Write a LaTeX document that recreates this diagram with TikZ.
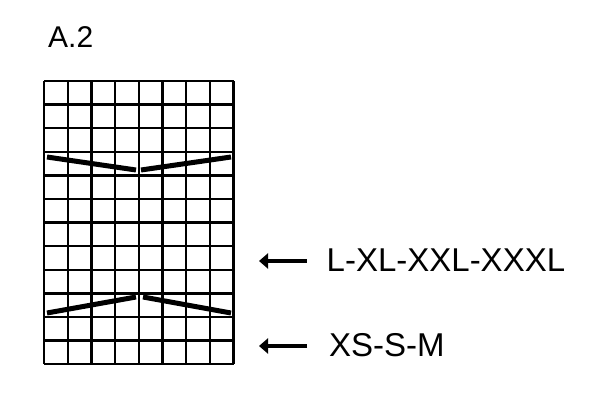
\documentclass[tikz,border=0pt]{standalone}
\usepackage{fontspec}
\setmainfont{Liberation Sans}
\usetikzlibrary{arrows.meta}
\newcommand{\cellW}[0]{23.7}
\newcommand{\cellH}[0]{23.6}

\begin{document}
\begin{tikzpicture}[x=1pt, y=-1pt]
  \tikzset{gridline/.style={line width=2.4pt},
    decline/.style={line width=5pt},
    sizearrow/.style={line width=4pt, -{Triangle[length=9pt,width=15pt]}},
    sizelabel/.style={anchor=base west, inner sep=0pt, font=\fontsize{33}{33}\selectfont}}
  \useasboundingbox (0,0) rectangle (614,404);
  \node[anchor=base west, inner sep=0pt, font=\fontsize{30}{30}\selectfont] (title) at (48,48) {A.2};
  \foreach \i in {0,...,8}
    \draw[gridline] (44+\i*\cellW, 81) -- (44+\i*\cellW, 81+12*\cellH);
  \foreach \j in {0,...,12}
    \draw[gridline] (44, 81+\j*\cellH) -- (44+8*\cellW, 81+\j*\cellH);
  \draw[decline] (47,157) -- (136,170);
  \draw[decline] (141,170) -- (231,157);
  \draw[decline] (47,313) -- (136,297);
  \draw[decline] (143,297) -- (231,313);
  \node[sizelabel] (big) at (326.5,271.7) {L-XL-XXL-XXXL};
  \node[sizelabel] (small) at (329,356.7) {XS-S-M};
  \coordinate (bigTip) at (259,261);
  \coordinate (smallTip) at (259,346);
  \draw[sizearrow] (big.west |- bigTip) ++(-20,0) -- (bigTip);
  \draw[sizearrow] (small.west |- smallTip) ++(-22,0) -- (smallTip);
\end{tikzpicture}
\end{document}
